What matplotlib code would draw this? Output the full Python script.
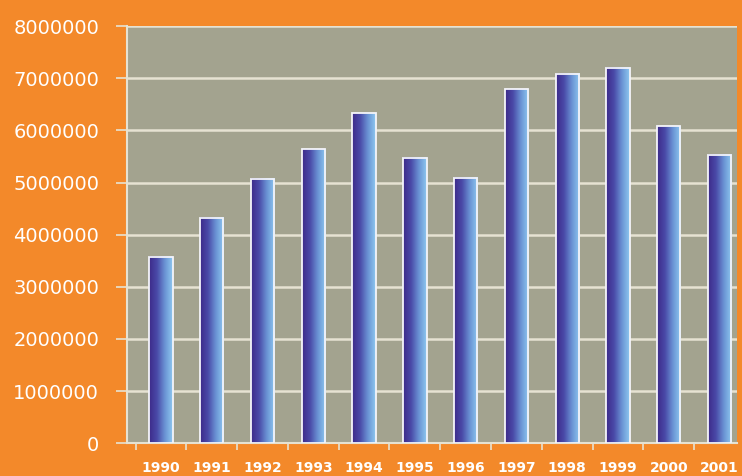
import numpy as np
import matplotlib.pyplot as plt
from matplotlib.colors import LinearSegmentedColormap

years = ['1990', '1991', '1992', '1993', '1994', '1995',
         '1996', '1997', '1998', '1999', '2000', '2001']
values = [3570000, 4320000, 5070000, 5640000, 6330000, 5470000,
          5090000, 6790000, 7080000, 7200000, 6080000, 5530000]
yticks = [0, 1000000, 2000000, 3000000, 4000000,
          5000000, 6000000, 7000000, 8000000]

orange = '#f3892a'
panel = '#a3a38f'
grid_col = '#e6e2d2'

fig = plt.figure(figsize=(7.42, 4.76), dpi=100, facecolor=orange)
ax = fig.add_axes([0.171, 0.069, 0.822, 0.876])
ax.set_facecolor(panel)

# bar gradient, dark purple on the left to light blue on the right
cmap = LinearSegmentedColormap.from_list('bar', ['#3d2a8a', '#4a4aa8', '#6a93d4', '#8ec8f0'])
grad = np.linspace(0, 1, 64).reshape(1, -1)

width = 0.46
for i, v in enumerate(values):
    ax.imshow(grad, cmap=cmap, aspect='auto', zorder=3,
              extent=(i - width / 2, i + width / 2, 0, v))
    ax.bar(i, v, width=width, facecolor='none', edgecolor='#f4f4fa',
           linewidth=1.3, zorder=4)

ax.set_xlim(-0.67, 11.34)
ax.set_ylim(0, 8000000)

ax.set_yticks(yticks)
ax.set_yticklabels([str(t) for t in yticks], color='white', fontsize=14)
ax.yaxis.grid(True, color=grid_col, linewidth=1.8, zorder=1)
ax.set_axisbelow(True)

ax.set_xticks(range(len(years)))
ax.set_xticklabels(years, color='white', fontsize=10, fontweight='bold')
ax.set_xticks(np.arange(-0.5, len(years) - 0.5, 1), minor=True)
ax.tick_params(axis='x', which='major', length=0, pad=13)
ax.tick_params(axis='x', which='minor', length=5, color=grid_col, width=1.2)
ax.tick_params(axis='y', length=8, color=grid_col, width=1.2, pad=12)

for side in ['top', 'right']:
    ax.spines[side].set_visible(False)
ax.spines['left'].set_color(grid_col)
ax.spines['bottom'].set_color(grid_col)
ax.spines['left'].set_linewidth(1.5)
ax.spines['bottom'].set_linewidth(1.5)

fig.savefig('out.png', dpi=100, facecolor=orange)
